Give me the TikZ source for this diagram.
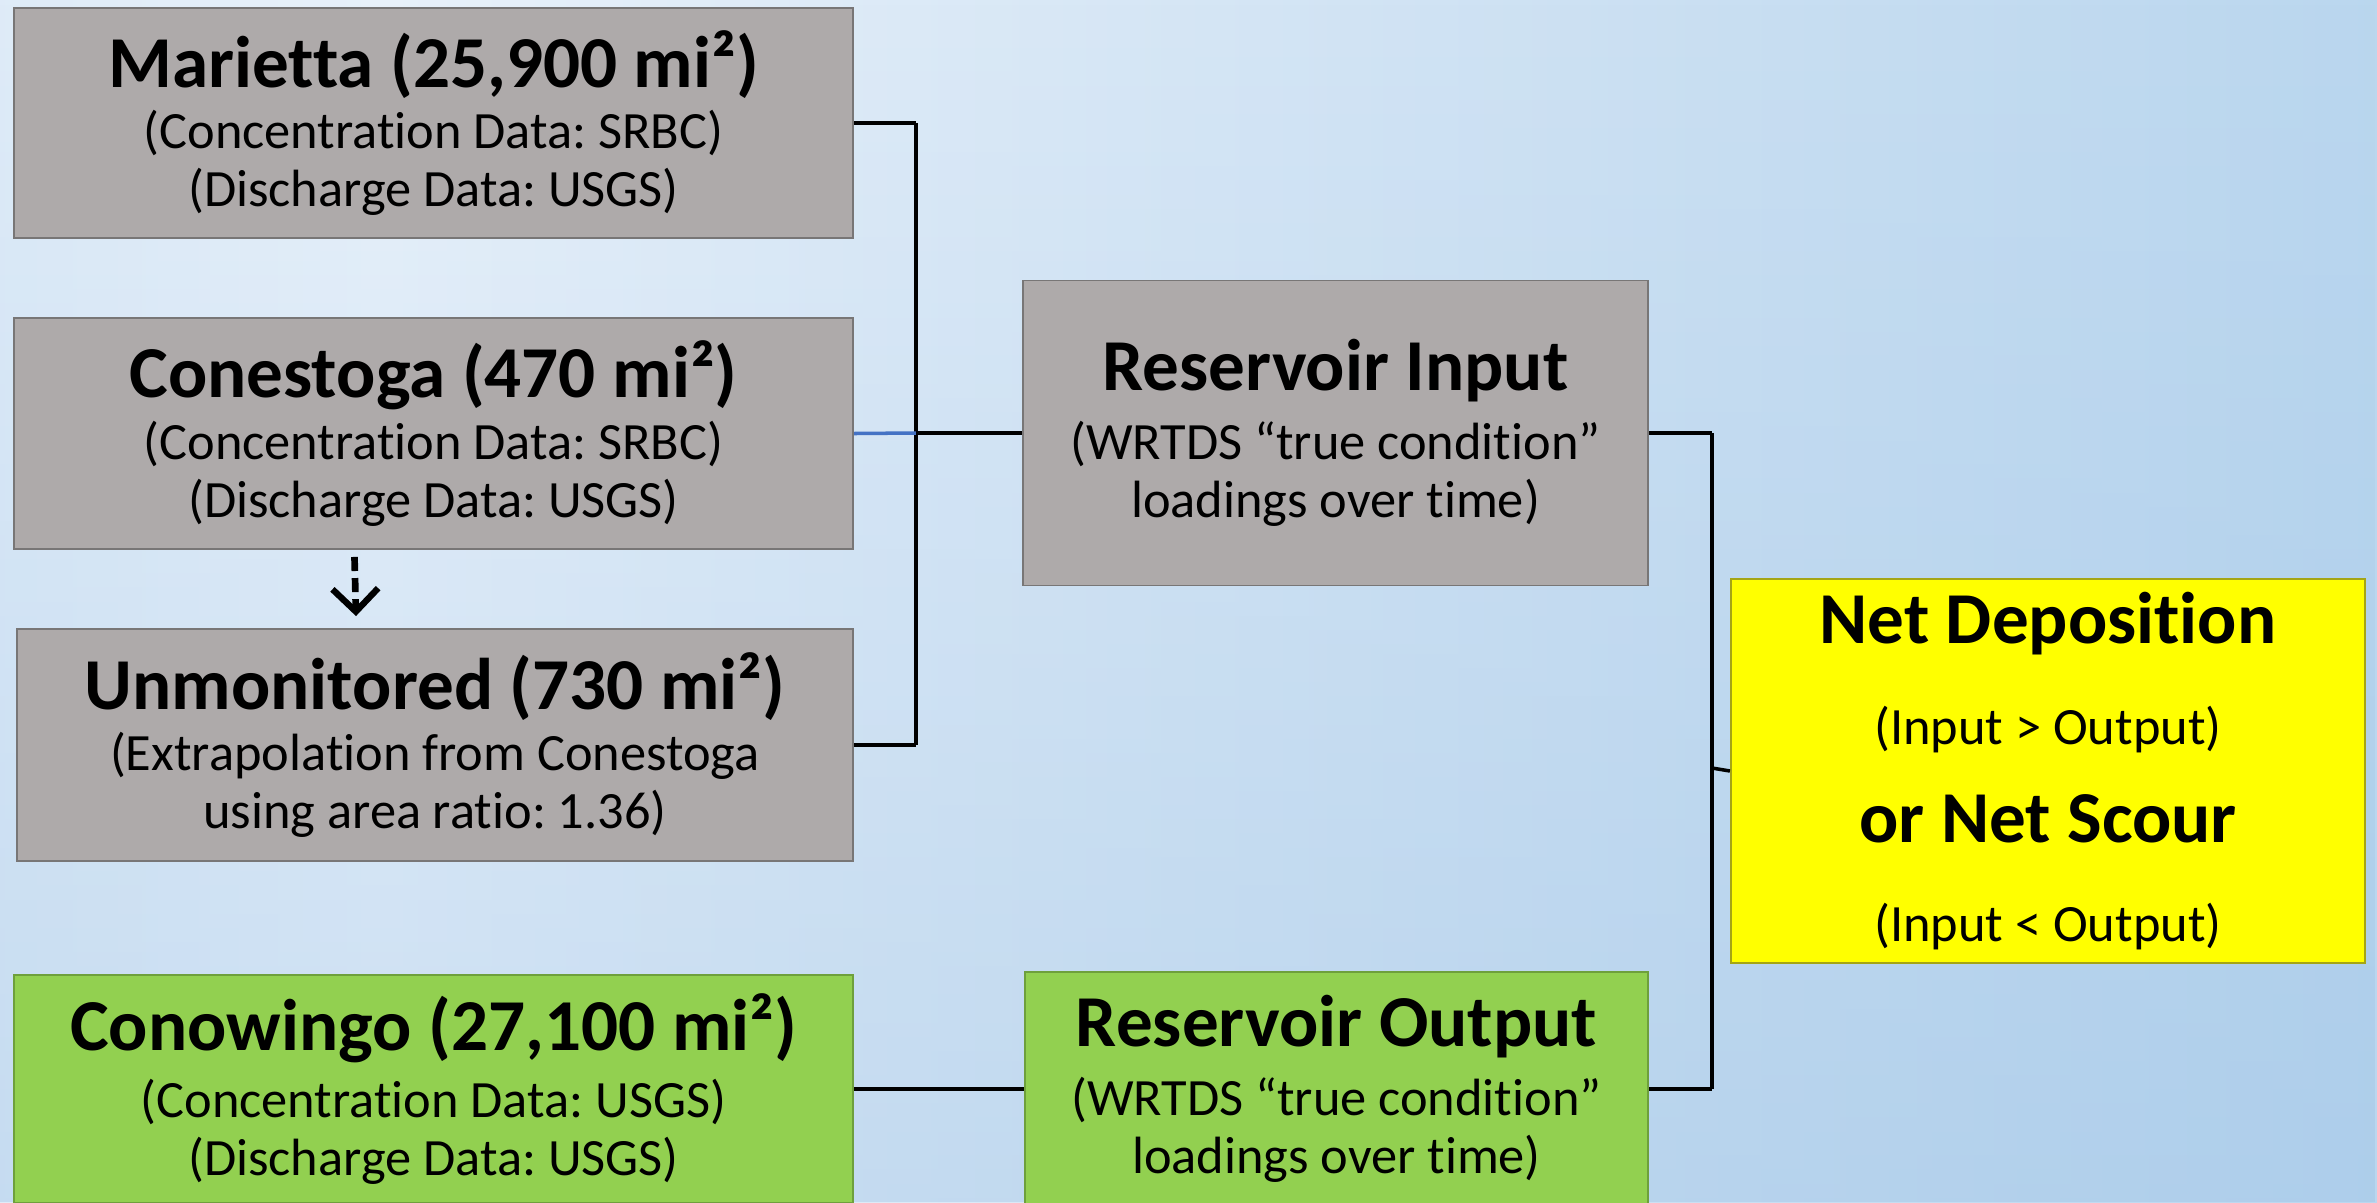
\documentclass[tikz,border=0pt]{standalone}
\usepackage{fontspec}
\setmainfont{Carlito}[Renderer=HarfBuzz, Ligatures={CommonOff,ContextualOff,RequiredOff}, RawFeature={-liga;-clig;-dlig;-calt;-rlig}]
\usepackage{tikz}
\usetikzlibrary{arrows,arrows.meta,positioning,calc,fadings}
\frenchspacing

\definecolor{boxgray}{RGB}{174,170,170}
\definecolor{edgegray}{RGB}{120,118,118}
\definecolor{boxgreen}{RGB}{146,208,80}
\definecolor{edgegreen}{RGB}{110,160,60}
\definecolor{boxyellow}{RGB}{255,255,0}
\definecolor{edgeyellow}{RGB}{165,165,20}
\definecolor{linkblue}{RGB}{68,114,196}
\definecolor{bgleft}{RGB}{162,201,234}
\definecolor{bgmid}{RGB}{205,225,243}
\definecolor{bglight}{RGB}{232,241,250}
\definecolor{bgright}{RGB}{176,209,236}
\definecolor{bgedge}{RGB}{200,222,241}
\definecolor{bgdeep}{RGB}{150,190,228}

\pgfdeclarehorizontalshading{slidebg}{100bp}{color(0bp)=(bgleft); color(10bp)=(bgmid); color(33bp)=(bglight); color(58bp)=(bgmid); color(84bp)=(bgright); color(100bp)=(bgedge)}

\newcommand{\ttlfont}{\fontsize{20.8}{24}\selectfont\bfseries}
\newcommand{\subfont}{\fontsize{14.9}{16.5}\selectfont}

\begin{document}
\begin{tikzpicture}[x=0.01cm,y=-0.01cm,auto]
    \tikzstyle{src}=[rectangle, draw=edgegray, line width=0.5pt, fill=boxgray, align=center, font=\subfont, inner sep=0pt]
    \tikzstyle{obs}=[src, draw=edgegreen, fill=boxgreen]
    \tikzstyle{result}=[src, draw=edgeyellow, fill=boxyellow]
    \tikzstyle{link}=[-, black, line width=1pt]

    % background
    \useasboundingbox (0,0) rectangle (2377,1202);
    \clip (0,0) rectangle (2377,1202);
    \shade[shading=slidebg] (0,0) rectangle (2377,1202);
    \fill[bgdeep, opacity=0.35, path fading=north] (0,0) rectangle (2377,1202);

    \node[src, minimum width=8.39cm, minimum height=2.30cm] (marietta) at (433.5,123)
        {{\ttlfont Marietta (25,900 mi²)}\\[1pt] (Concentration Data: SRBC)\\ (Discharge Data: USGS)};
    \node[src, minimum width=8.39cm, minimum height=2.31cm] (conestoga) at (433.5,433.5)
        {{\ttlfont Conestoga (470 mi²)}\\[1pt] (Concentration Data: SRBC)\\ (Discharge Data: USGS)};
    \node[src, minimum width=8.36cm, minimum height=2.32cm] (unmon) at (435,745)
        {{\ttlfont Unmonitored (730 mi²)}\\[1pt] (Extrapolation from Conestoga\\ using area ratio: 1.36)};
    \node[obs, minimum width=8.39cm, minimum height=2.28cm] (conowingo) at (433.5,1089)
        {{\ttlfont Conowingo (27,100 mi²)}\\[2.5pt] (Concentration Data: USGS)\\ (Discharge Data: USGS)};
    \node[src, minimum width=6.25cm, minimum height=3.05cm] (resin) at (1335.5,433)
        {{\ttlfont Reservoir Input}\\[3pt] (WRTDS “true condition”\\ loadings over time)};
    \node[obs, minimum width=6.23cm, minimum height=2.34cm] (resout) at (1336.5,1089)
        {{\ttlfont Reservoir Output}\\[3pt] (WRTDS “true condition”\\ loadings over time)};
    \node[result, minimum width=6.34cm, minimum height=3.84cm] (net) at (2048,771)
        {{\ttlfont Net Deposition}\\[12pt] (Input > Output)\\[11.5pt] {\ttlfont or Net Scour}\\[11.5pt] (Input < Output)};

    \coordinate (ja) at (916,123);
    \coordinate (jb) at (916,433);
    \coordinate (jc) at (916,745);
    \coordinate (jd) at (1712,433);
    \coordinate (je) at (1712,1089);
    \coordinate (jf) at (1712,768);

    \path[link] (marietta.east) edge (ja);
    \path[link] (ja) edge (jc);
    \path[link] (unmon.east) edge (jc);
    \path[link, linkblue] (conestoga.east) edge (jb);
    \path[link] (jb) edge (resin.west);
    \path[link] (resin.east) edge (jd);
    \path[link] (jd) edge (je);
    \path[link] (resout.east) edge (je);
    \path[link] (jf) edge (net.west);
    \path[link] (conowingo.east) edge (resout.west);

    \path[-{Straight Barb[length=6.5pt,width=13pt,line width=1.8pt]}, line width=1.9pt, dash pattern=on 4pt off 2pt]
        ($(conestoga.south)+(-79,7)$) edge ($(unmon.north)+(-79,-12)$);
\end{tikzpicture}
\end{document}
